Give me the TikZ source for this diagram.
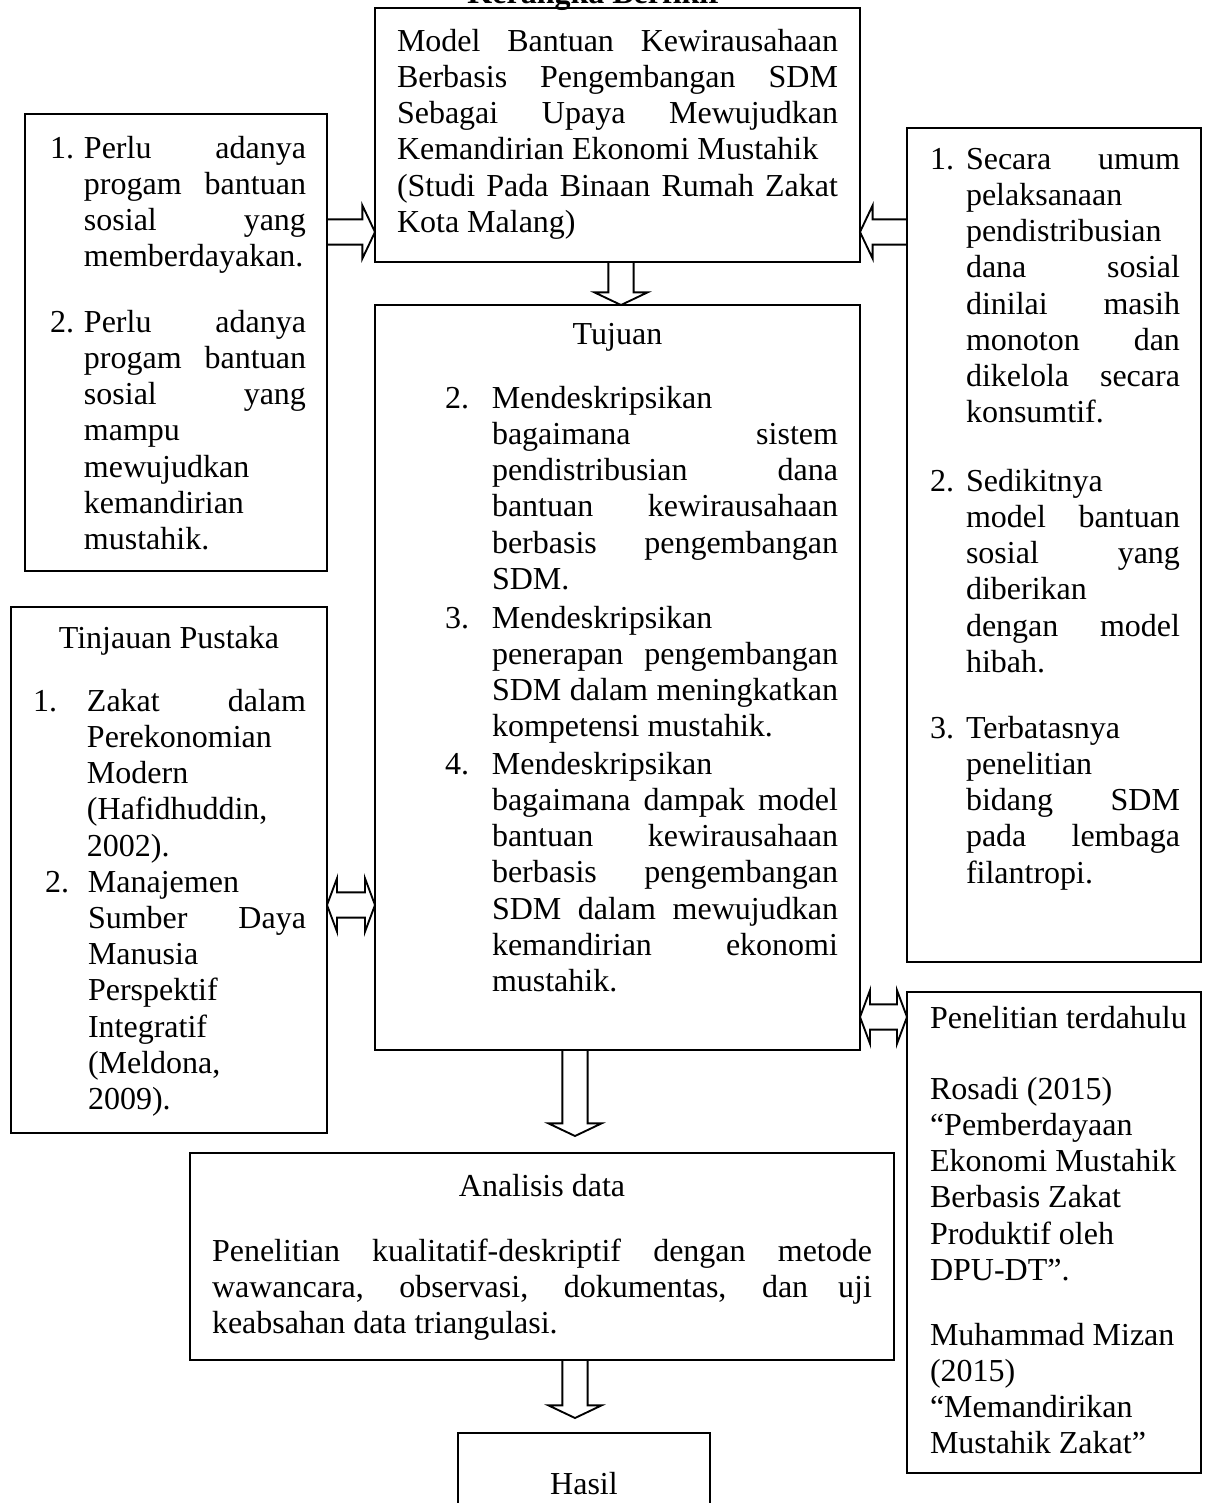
\documentclass[tikz,border=0pt]{standalone}
\usepackage{fontspec}
\setmainfont{Liberation Serif}
\usetikzlibrary{calc}

\newcommand{\mainfs}{\fontsize{12pt}{13.6pt}\selectfont}
\newcommand{\jline}[1]{\makebox[\linewidth][s]{#1}}
\newcommand{\numpar}[4]{\makebox[#2][l]{#1}\parbox[t]{#3}{#4}}
\newcommand{\shafthalf}{4.75pt}
\newcommand{\headhalf}{10pt}
\newcommand{\headlen}{4.75pt}
\newcommand{\dheadlen}{3.75pt}

% block arrow from #1 (tail) to #2 (tip)
\newcommand{\blockarrow}[2]{%
  \coordinate (ba-s) at #1;
  \coordinate (ba-e) at #2;
  \coordinate (ba-h) at ($(ba-e)!\headlen!(ba-s)$);
  \draw[barrow] ($(ba-s)!\shafthalf!90:(ba-e)$) -- ($(ba-h)!\shafthalf!90:(ba-e)$)
    -- ($(ba-h)!\headhalf!90:(ba-e)$) -- (ba-e) -- ($(ba-h)!\headhalf!-90:(ba-e)$)
    -- ($(ba-h)!\shafthalf!-90:(ba-e)$) -- ($(ba-s)!\shafthalf!-90:(ba-e)$) -- cycle;}

% block arrow with a head at both ends
\newcommand{\dblockarrow}[2]{%
  \coordinate (ba-s) at #1;
  \coordinate (ba-e) at #2;
  \coordinate (ba-h) at ($(ba-e)!\dheadlen!(ba-s)$);
  \coordinate (ba-g) at ($(ba-s)!\dheadlen!(ba-e)$);
  \draw[barrow] (ba-s) -- ($(ba-g)!\headhalf!90:(ba-e)$) -- ($(ba-g)!\shafthalf!90:(ba-e)$)
    -- ($(ba-h)!\shafthalf!90:(ba-e)$) -- ($(ba-h)!\headhalf!90:(ba-e)$) -- (ba-e)
    -- ($(ba-h)!\headhalf!-90:(ba-e)$) -- ($(ba-h)!\shafthalf!-90:(ba-e)$)
    -- ($(ba-g)!\shafthalf!-90:(ba-e)$) -- ($(ba-g)!\headhalf!-90:(ba-e)$) -- cycle;}

\begin{document}
\begin{tikzpicture}[x=0.375pt, y=-0.375pt,
    box/.style={draw, line width=0.75pt, inner sep=0pt, outer sep=0pt, anchor=north west},
    txt/.style={inner sep=0pt, outer sep=0pt, font=\mainfs},
    barrow/.style={draw, fill=white, line width=0.7pt, line join=miter}]
  \useasboundingbox (0,0) rectangle (1216,1503);

  \node[txt, font=\mainfs\bfseries, anchor=base] (title) at (595,3) {Kerangka Berfikir};

  % boxes
  \node[box, minimum width=181.875pt, minimum height=95.25pt] (top) at (375,8) {};
  \node[box, minimum width=113.25pt, minimum height=171.375pt] (lone) at (25,114) {};
  \node[box, minimum width=118.5pt, minimum height=197.25pt] (ltwo) at (11,607) {};
  \node[box, minimum width=181.875pt, minimum height=279.375pt] (tujuan) at (375,305) {};
  \node[box, minimum width=110.25pt, minimum height=312.75pt] (rone) at (907,128) {};
  \node[box, minimum width=110.25pt, minimum height=180.375pt] (rtwo) at (907,992) {};
  \node[box, minimum width=264pt, minimum height=77.625pt] (analisis) at (190,1153) {};
  \node[box, minimum width=94.5pt, minimum height=36.375pt] (hasil) at (458,1433) {};

  % top box
  \node[txt, anchor=base west] (top-t) at (397,51) {\parbox[t]{165.375pt}{%
    \jline{Model Bantuan Kewirausahaan}\\ \jline{Berbasis Pengembangan SDM}\\
    \jline{Sebagai Upaya Mewujudkan}\\ Kemandirian Ekonomi Mustahik\\
    \jline{(Studi Pada Binaan Rumah Zakat}\\ Kota Malang)}};

  % left boxes
  \node[txt, anchor=base west] (lone-a) at (50,158) {\numpar{1.}{12.75pt}{83.25pt}{%
    \jline{Perlu adanya}\\ \jline{progam bantuan}\\ \jline{sosial yang}\\ memberdayakan.}};
  \node[txt, anchor=base west] (lone-b) at (50,332) {\numpar{2.}{12.75pt}{83.25pt}{%
    \jline{Perlu adanya}\\ \jline{progam bantuan}\\ \jline{sosial yang}\\ mampu\\
    mewujudkan\\ kemandirian\\ mustahik.}};

  \node[txt, anchor=base] (ltwo-t) at (169,648) {Tinjauan Pustaka};
  \node[txt, anchor=base west] (ltwo-a) at (33,711) {\numpar{1.}{20.25pt}{82.125pt}{%
    \jline{Zakat dalam}\\ Perekonomian\\ Modern\\ (Hafidhuddin,\\ 2002).}};
  \node[txt, anchor=base west] (ltwo-b) at (45,892) {\numpar{2.}{16.125pt}{81.75pt}{%
    Manajemen\\ \jline{Sumber Daya}\\ Manusia\\ Perspektif\\ Integratif\\ (Meldona,\\ 2009).}};

  % tujuan
  \node[txt, anchor=base] (tujuan-t) at (617.5,344) {Tujuan};
  \node[txt, anchor=base west] (tujuan-a) at (445,408) {\numpar{2.}{17.625pt}{129.75pt}{%
    Mendeskripsikan\\ \jline{bagaimana sistem}\\ \jline{pendistribusian dana}\\
    \jline{bantuan kewirausahaan}\\ \jline{berbasis pengembangan}\\ SDM.}};
  \node[txt, anchor=base west] (tujuan-b) at (445,628) {\numpar{3.}{17.625pt}{129.75pt}{%
    Mendeskripsikan\\ \jline{penerapan pengembangan}\\ \jline{SDM dalam meningkatkan}\\
    kompetensi mustahik.}};
  \node[txt, anchor=base west] (tujuan-c) at (445,774) {\numpar{4.}{17.625pt}{129.75pt}{%
    Mendeskripsikan\\ \jline{bagaimana dampak model}\\ \jline{bantuan kewirausahaan}\\
    \jline{berbasis pengembangan}\\ \jline{SDM dalam mewujudkan}\\
    \jline{kemandirian ekonomi}\\ mustahik.}};

  % right boxes
  \node[txt, anchor=base west] (rone-a) at (930,169) {\numpar{1.}{13.5pt}{80.25pt}{%
    \jline{Secara umum}\\ pelaksanaan\\ pendistribusian\\ \jline{dana sosial}\\
    \jline{dinilai masih}\\ \jline{monoton dan}\\ \jline{dikelola secara}\\ konsumtif.}};
  \node[txt, anchor=base west] (rone-b) at (930,491) {\numpar{2.}{13.5pt}{80.25pt}{%
    Sedikitnya\\ \jline{model bantuan}\\ \jline{sosial yang}\\ diberikan\\
    \jline{dengan model}\\ hibah.}};
  \node[txt, anchor=base west] (rone-c) at (930,738) {\numpar{3.}{13.5pt}{80.25pt}{%
    Terbatasnya\\ penelitian\\ \jline{bidang SDM}\\ \jline{pada lembaga}\\ filantropi.}};

  \node[txt, anchor=base west] (rtwo-t) at (930,1028) {Penelitian terdahulu};
  \node[txt, anchor=base west] (rtwo-a) at (930,1099) {\parbox[t]{95pt}{%
    Rosadi (2015)\\ “Pemberdayaan\\ Ekonomi Mustahik\\ Berbasis Zakat\\
    Produktif oleh\\ DPU-DT”.}};
  \node[txt, anchor=base west] (rtwo-b) at (930,1345) {\parbox[t]{95pt}{%
    Muhammad Mizan\\ (2015)\\ “Memandirikan\\ Mustahik Zakat”}};

  % analisis and hasil
  \node[txt, anchor=base] (analisis-t) at (542,1196) {Analisis data};
  \node[txt, anchor=base west] (analisis-a) at (212,1261) {\parbox[t]{247.5pt}{%
    \jline{Penelitian kualitatif-deskriptif dengan metode}\\
    \jline{wawancara, observasi, dokumentas, dan uji}\\ keabsahan data triangulasi.}};
  \node[txt, anchor=base] (hasil-t) at (584,1494) {Hasil};

  % arrows
  \blockarrow{(lone.east |- 0,232)}{(top.west |- 0,232)}
  \blockarrow{(rone.west |- 0,232)}{(top.east |- 0,232)}
  \blockarrow{(top.south -| 621,0)}{(tujuan.north -| 621,0)}
  \dblockarrow{(ltwo.east |- 0,905)}{(tujuan.west |- 0,905)}
  \dblockarrow{(tujuan.east |- 0,1017)}{(rtwo.west |- 0,1017)}
  \blockarrow{(tujuan.south -| 575,0)}{($(analisis.north -| 575,0)+(0,-17)$)}
  \blockarrow{(analisis.south -| 575,0)}{($(hasil.north -| 575,0)+(0,-15)$)}
\end{tikzpicture}
\end{document}
